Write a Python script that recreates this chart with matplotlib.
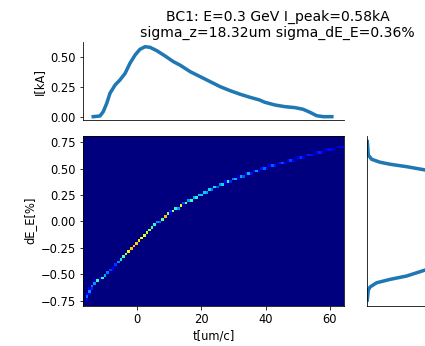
import numpy as np
import matplotlib
matplotlib.use("Agg")
import matplotlib.pyplot as plt

# current profile (top panel)
cur_t = [-13.5, -11.4, -10.4, -9.3, -8.3, -6.7, -5.2, -3.6, -2.1, -0.5, 1.0, 2.6, 4.1,
         6.2, 8.8, 11.4, 13.4, 16.6, 19.7, 22.8, 25.9, 29.0, 32.1, 35.2, 38.1,
         39.8, 43.0, 46.1, 49.2, 51.7, 53.8, 55.9, 58.0, 60.6]
cur_I = [0.0, 0.006, 0.042, 0.113, 0.197, 0.267, 0.309, 0.365, 0.449, 0.519, 0.567,
         0.589, 0.584, 0.556, 0.511, 0.463, 0.435, 0.379, 0.337, 0.295, 0.253, 0.219,
         0.189, 0.163, 0.141, 0.121, 0.098, 0.084, 0.076, 0.062, 0.037, 0.008, 0.0, 0.0]

# longitudinal phase space trace (main panel)
trace_t = [-16.0, -14.5, -12.9, -10.0, -7.3, -2.1, 0.0, 3.1, 6.2, 10.0, 15.0, 20.0,
           25.0, 30.0, 35.0, 40.0, 50.0, 60.0, 64.3]
trace_dE = [-0.74, -0.65, -0.57, -0.52, -0.443, -0.27, -0.206, -0.112, -0.02, 0.075,
            0.17, 0.25, 0.33, 0.393, 0.45, 0.504, 0.592, 0.677, 0.70]
trace_level = [0.22, 0.28, 0.4, 0.5, 0.62, 0.75, 0.8, 0.82, 0.78, 0.72, 0.64, 0.56,
               0.48, 0.4, 0.32, 0.25, 0.2, 0.15, 0.12]
trace_width = [0.06, 0.04, 0.02, 0.0, 0.0, 0.0, 0.0, 0.0, 0.0, 0.0, 0.0, 0.0,
               0.0, 0.0, 0.0, 0.0, 0.0, 0.0, 0.0]

# energy spectrum (right panel)
spec_dE = [-0.743, -0.65, -0.62, -0.58, -0.548, -0.516, -0.46, -0.40, -0.30, 0.0,
           0.30, 0.40, 0.488, 0.519, 0.542, 0.561, 0.589, 0.63, 0.756]
spec_n = [0.0, 0.01, 0.027, 0.093, 0.227, 0.393, 0.577, 0.85, 1.2, 1.4,
          1.2, 0.85, 0.577, 0.393, 0.227, 0.127, 0.043, 0.01, 0.0]

title = "BC1: E=0.3 GeV I_peak=0.58kA\nsigma_z=18.32um sigma_dE_E=0.36%"

t_lim = (-16.68, 64.38)
dE_lim = (-0.797, 0.813)
nt, nE = 100, 64

# build the 2d histogram image
t_c = np.linspace(t_lim[0], t_lim[1], nt + 1)
t_c = 0.5 * (t_c[1:] + t_c[:-1])
e_edges = np.linspace(dE_lim[0], dE_lim[1], nE + 1)
e_c = 0.5 * (e_edges[1:] + e_edges[:-1])
dbin = e_edges[1] - e_edges[0]
img = np.zeros((nE, nt))
for j, t in enumerate(t_c):
    if t < trace_t[0] or t > trace_t[-1]:
        continue
    e0 = np.interp(t, trace_t, trace_dE)
    lev = np.interp(t, trace_t, trace_level)
    w = max(np.interp(t, trace_t, trace_width), 0.6 * dbin)
    img[:, j] = lev * np.clip(1 - np.abs(e_c - e0) / w, 0, None)

plt.rcParams["font.size"] = 11.5
W, H, dpi = 425, 346, 72
fig = plt.figure(figsize=(W / dpi, H / dpi), dpi=dpi)

def box(l, t, r, b):
    return [l / W, 1 - b / H, (r - l) / W, (b - t) / H]

ax1 = fig.add_axes(box(83, 42.3, 344, 120))
ax1.plot(cur_t, cur_I, lw=3.5)
ax1.set_xlim(t_lim)
ax1.set_ylim(-0.028, 0.626)
ax1.set_xticks([])
ax1.set_yticks([0, 0.25, 0.5])
ax1.set_ylabel("I[kA]")
ax1.spines["top"].set_visible(False)
ax1.spines["right"].set_visible(False)

ax2 = fig.add_axes(box(83, 135.6, 344, 305.7))
ax2.imshow(img, origin="lower", aspect="auto", cmap="jet", vmin=0, vmax=1,
           interpolation="nearest",
           extent=[t_lim[0], t_lim[1], dE_lim[0], dE_lim[1]])
ax2.set_xlim(t_lim)
ax2.set_ylim(dE_lim)
ax2.set_yticks([-0.75, -0.5, -0.25, 0, 0.25, 0.5, 0.75])
ax2.set_xlabel("t[um/c]")
ax2.set_ylabel("dE_E[%]")

ax3 = fig.add_axes(box(367.3, 135.6, 467.3, 305.7))
ax3.plot(spec_n, spec_dE, lw=3.5)
ax3.set_xlim(0, 1)
ax3.set_ylim(dE_lim)
ax3.set_xticks([])
ax3.set_yticks([])
ax3.spines["top"].set_visible(False)
ax3.spines["right"].set_visible(False)

fig.text(277.5 / W, 1 - 10 / H, title, ha="center", va="top", fontsize=14)

fig.savefig("out.png", dpi=dpi)
